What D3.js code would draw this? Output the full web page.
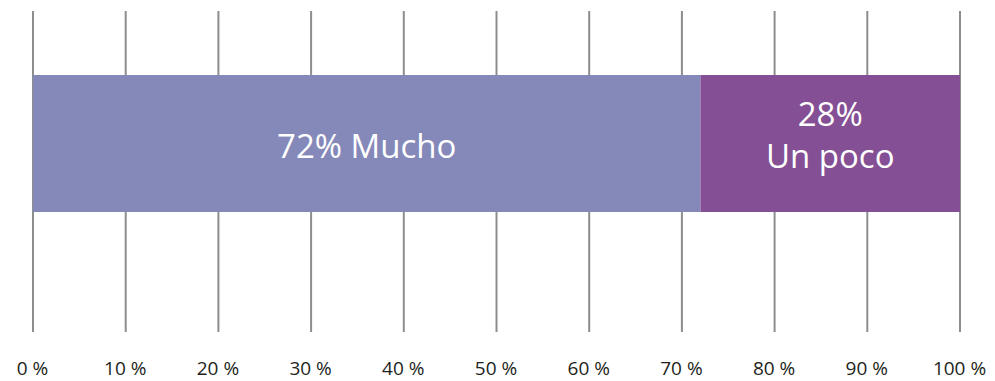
<!DOCTYPE html>
<html>
<head>
<meta charset="utf-8">
<script src="https://cdn.jsdelivr.net/npm/d3@7"></script>
<style>
  html, body { margin: 0; padding: 0; background: #ffffff; }
  svg { display: block; }
  text { font-family: "Open Sans", "Noto Sans", sans-serif; }
</style>
</head>
<body>
<svg id="chart" width="995" height="381"></svg>
<script>
// Share of answers, stacked along one 0–100 % bar
const categories = ["Mucho", "Un poco"];
const values = [72, 28];
const labelLines = [["72% Mucho"], ["28%", "Un poco"]];
const tickValues = [0, 10, 20, 30, 40, 50, 60, 70, 80, 90, 100];
const tickLabels = ["0 %", "10 %", "20 %", "30 %", "40 %", "50 %", "60 %", "70 %", "80 %", "90 %", "100 %"];
const colors = ["#8589b9", "#844f94"];

const svg = d3.select("#chart");

const x = d3.scaleLinear().domain([0, 100]).range([33, 960]);
const y = d3.scaleBand().domain(["bar"]).range([75, 212]).padding(0);

// Vertical grid lines
svg.append("g")
  .selectAll("line")
  .data(tickValues)
  .join("line")
  .attr("x1", d => x(d))
  .attr("x2", d => x(d))
  .attr("y1", 11)
  .attr("y2", 332)
  .attr("stroke", "#8b8d8f")
  .attr("stroke-width", 2);

// Stacked segments
let acc = 0;
const segs = values.map((v, i) => {
  const s = { cat: categories[i], start: acc, end: acc + v, i };
  acc += v;
  return s;
});

svg.append("g")
  .selectAll("rect")
  .data(segs)
  .join("rect")
  .attr("x", d => x(d.start))
  .attr("y", y("bar"))
  .attr("width", d => x(d.end) - x(d.start))
  .attr("height", y.bandwidth())
  .attr("fill", d => colors[d.i]);

// Segment labels (white, centred in each segment)
const lab = svg.append("g");
const lineH = 42;
segs.forEach(d => {
  const lines = labelLines[d.i];
  const cx = (x(d.start) + x(d.end)) / 2;
  const cy = y("bar") + y.bandwidth() / 2;
  const first = lines.length === 1 ? cy + 14.5 : cy - 17.5;
  lines.forEach((t, k) => {
    lab.append("text")
      .attr("x", cx)
      .attr("y", first + k * lineH)
      .attr("text-anchor", "middle")
      .attr("fill", "#ffffff")
      .attr("font-size", 33)
      .text(t);
  });
});

// Axis labels
const axis = d3.axisBottom(x)
  .tickValues(tickValues)
  .tickFormat((d, i) => tickLabels[i])
  .tickSize(0)
  .tickPadding(0);

const ax = svg.append("g").attr("transform", "translate(-1,361)").call(axis);
ax.select(".domain").remove();
ax.selectAll("text")
  .attr("font-size", 19)
  .attr("fill", "#231f20")
  .attr("font-family", "\"Open Sans\", \"Noto Sans\", sans-serif");
</script>
</body>
</html>
